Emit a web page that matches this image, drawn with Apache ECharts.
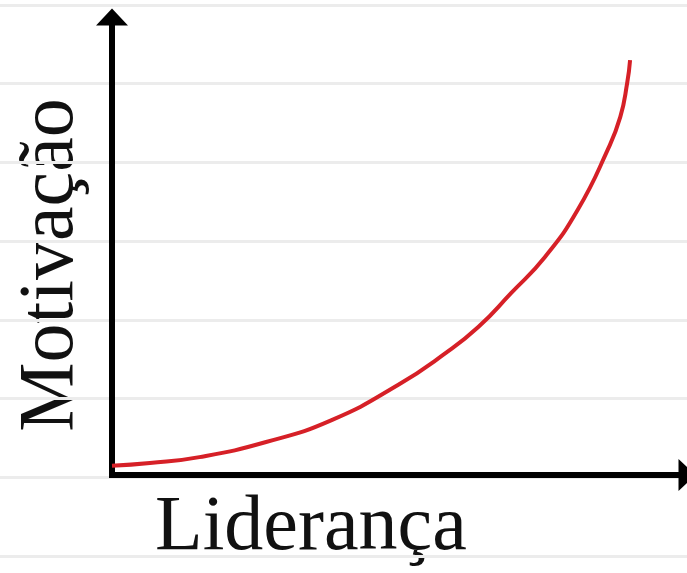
<!DOCTYPE html>
<html>
<head>
<meta charset="utf-8">
<script src="https://cdn.jsdelivr.net/npm/echarts@6/dist/echarts.min.js"></script>
<style>html,body{margin:0;padding:0;background:#fff;}#c{width:687px;height:573px;}</style>
</head>
<body>
<div id="c"></div>
<script>
// Curve (arbitrary units: x 0–10, y 0–10)
var lideranca = [0, 0.66, 1.52, 2.68, 3.82, 4.98, 5.80, 6.37, 6.94, 7.53, 8.10, 8.62, 8.84, 8.96, 9.01];
var motivacao = [0.20, 0.26, 0.39, 0.72, 1.20, 1.97, 2.66, 3.23, 3.97, 4.76, 5.79, 7.10, 7.82, 8.56, 9.06];
var xTitle = 'Liderança';
var yTitle = 'Motivação';
// notebook paper ruling lines (background)
var paperLines = [0, 1, 2, 3, 4, 5, 6, 7];

var pts = lideranca.map(function (x, i) { return [x, motivacao[i]]; });
var chart = echarts.init(document.getElementById('c'), null, {renderer: 'canvas'});
var font = '"Liberation Serif", "Times New Roman", serif';
chart.setOption({
  backgroundColor: '#ffffff',
  animation: false,
  grid: [
    {left: 0, right: 0, top: 5, bottom: 17},
    {left: 112, right: -3, top: 17, bottom: 98}
  ],
  xAxis: [
    {gridIndex: 0, type: 'value', min: 0, max: 1, show: false},
    {gridIndex: 1, type: 'value', min: 0, max: 10,
      axisLine: {show: true, onZero: false, symbol: ['none', 'triangle'], symbolSize: [32, 17],
        lineStyle: {color: '#000', width: 6, cap: 'square'}},
      axisTick: {show: false}, axisLabel: {show: false}, splitLine: {show: false}}
  ],
  yAxis: [
    {gridIndex: 0, type: 'value', min: 0, max: paperLines.length - 1, interval: 1,
      axisLine: {show: false}, axisTick: {show: false}, axisLabel: {show: false},
      splitLine: {show: true, lineStyle: {color: '#ececec', width: 3}}},
    {gridIndex: 1, type: 'value', min: 0, max: 10,
      axisLine: {show: true, onZero: false, symbol: ['none', 'triangle'], symbolSize: [32, 17],
        lineStyle: {color: '#000', width: 6, cap: 'square'}},
      axisTick: {show: false}, axisLabel: {show: false}, splitLine: {show: false}}
  ],
  series: [{
    type: 'line', xAxisIndex: 1, yAxisIndex: 1,
    data: pts, smooth: true, showSymbol: false,
    lineStyle: {color: '#d62027', width: 4}, z: 1
  }],
  graphic: [
    {type: 'text', x: 155, y: 529, style: {text: xTitle, font: '78px ' + font, fill: '#111',
      textAlign: 'left', textVerticalAlign: 'middle'}},
    {type: 'text', x: 52, y: 265, rotation: Math.PI / 2, style: {text: yTitle, font: '78px ' + font, fill: '#111',
      textAlign: 'center', textVerticalAlign: 'middle'}}
  ]
});
</script>
</body>
</html>
